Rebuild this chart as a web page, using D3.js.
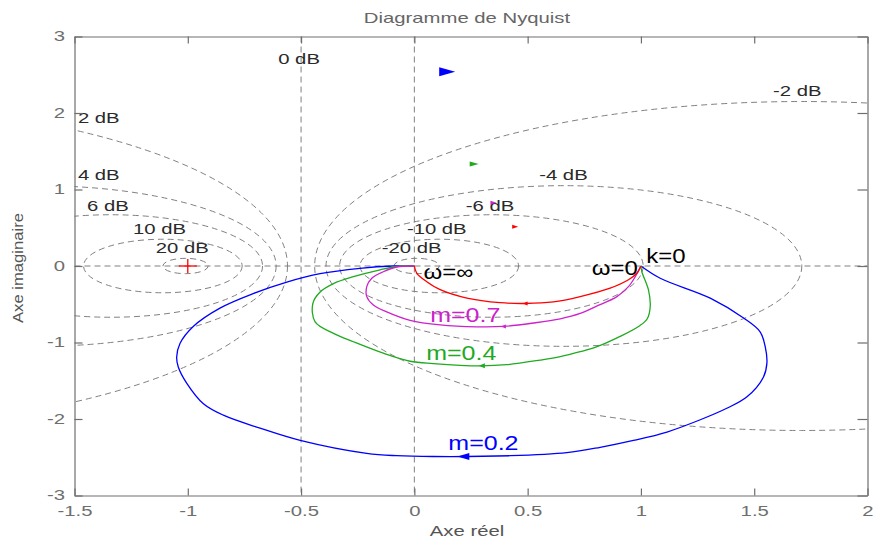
<!DOCTYPE html>
<html>
<head>
<meta charset="utf-8">
<script src="https://cdn.jsdelivr.net/npm/d3@7"></script>
<style>
  body { margin: 0; background: #fff; }
  text { font-family: "Liberation Sans", Arial, sans-serif; }
</style>
</head>
<body>
<div id="chart"></div>
<script>
// M-circles (iso-gain contours), values in dB, with centre and radius on the real axis
const mDb = [2, 4, 6, 10, 20, -2, -4, -6, -10, -20];
const circleCx = [-2.71, -1.66, -1.34, -1.11, -1.01, 1.71, 0.66, 0.34, 0.11, 0.01];
const circleR = [2.15, 1.05, 0.67, 0.35, 0.10, 2.15, 1.05, 0.67, 0.35, 0.10];
const zeroDbRe = -0.5;

// dB label anchors (re, im)
const dbLabels = ['0 dB', '2 dB', '4 dB', '6 dB', '10 dB', '20 dB', '-2 dB', '-4 dB', '-6 dB', '-10 dB', '-20 dB'];
const dbLabelRe = [-0.601, -1.485, -1.485, -1.445, -1.242, -1.141, 1.583, 0.551, 0.227, -0.033, -0.144];
const dbLabelIm = [2.64, 1.87, 1.13, 0.72, 0.42, 0.17, 2.22, 1.13, 0.72, 0.42, 0.17];

// Nyquist loci, [re, im], from w=0 to w=inf
const curveM02 = [[1, 0], [1.085, -0.16], [1.306, -0.42], [1.453, -0.68], [1.526, -0.86], [1.549, -1.06],
  [1.556, -1.27], [1.541, -1.45], [1.468, -1.71], [1.379, -1.86], [1.262, -2.01], [1.115, -2.17],
  [0.967, -2.28], [0.82, -2.37], [0.673, -2.44], [0.423, -2.48], [0.084, -2.49], [-0.078, -2.48],
  [-0.21, -2.45], [-0.504, -2.28], [-0.681, -2.12], [-0.843, -1.95], [-0.931, -1.8], [-1.005, -1.53],
  [-1.042, -1.32], [-1.049, -1.19], [-1.034, -1.01], [-0.976, -0.79], [-0.858, -0.55], [-0.711, -0.36],
  [-0.563, -0.21], [-0.416, -0.1], [-0.24, -0.03], [-0.093, 0], [0, 0]];
const curveM04 = [[1, 0], [1.004, -0.075], [1.033, -0.31], [1.041, -0.53], [1.028, -0.69], [0.995, -0.78],
  [0.908, -0.92], [0.806, -1.055], [0.732, -1.12], [0.644, -1.185], [0.555, -1.23], [0.408, -1.29],
  [0.29, -1.305], [0.084, -1.275], [-0.019, -1.245], [-0.137, -1.14], [-0.269, -0.99], [-0.357, -0.88],
  [-0.438, -0.73], [-0.448, -0.49], [-0.416, -0.34], [-0.357, -0.23], [-0.269, -0.14], [-0.151, -0.05],
  [-0.063, 0], [0, 0]];
const curveM07 = [[1, 0], [0.975, -0.14], [0.945, -0.27], [0.894, -0.4], [0.8, -0.53], [0.732, -0.62],
  [0.644, -0.69], [0.526, -0.745], [0.393, -0.79], [0.276, -0.795], [0.114, -0.77], [-0.019, -0.71],
  [-0.122, -0.6], [-0.181, -0.51], [-0.21, -0.4], [-0.21, -0.27], [-0.188, -0.16], [-0.137, -0.075],
  [-0.078, -0.013], [0, 0]];
const curveOrder1 = [[1, 0], [0.982, -0.095], [0.945, -0.18], [0.864, -0.29], [0.732, -0.4], [0.614, -0.47],
  [0.489, -0.49], [0.379, -0.48], [0.232, -0.42], [0.114, -0.31], [0.055, -0.205], [0.011, -0.095], [0, 0]];

// direction arrows: on the curves (pointing left) and the mirrored ones (pointing right)
const arrowsLower = [[0.216, -2.49], [0.298, -1.305], [0.393, -0.79], [0.489, -0.49]];
const arrowsUpper = [[0.145, 2.54], [0.264, 1.333], [0.349, 0.827], [0.445, 0.514]];

const curveLabels = ['m=0.2', 'm=0.4', 'm=0.7'];
const curveLabelRe = [0.15, 0.052, 0.07];
const curveLabelIm = [-2.405, -1.229, -0.728];

const pointLabels = ['\u03c9=\u221e', '\u03c9=0', 'k=0'];
const pointLabelRe = [0.04, 0.783, 1.023];
const pointLabelIm = [-0.174, -0.118, 0.043];

const xTicks = [-1.5, -1, -0.5, 0, 0.5, 1, 1.5, 2];
const xTickLabels = ['-1.5', '-1', '-0.5', '0', '0.5', '1', '1.5', '2'];
const yTicks = [-3, -2, -1, 0, 1, 2, 3];
const yTickLabels = ['-3', '-2', '-1', '0', '1', '2', '3'];

const width = 874, height = 546;
const margin = { top: 36.5, right: 6.5, bottom: 50.5, left: 74.5 };
const sx = 1.45; // the original picture is stretched horizontally
const colors = ['#0000ff', '#1faa1f', '#cc22cc', '#ff0000'];
const axisGray = '#6e6e6e';

const svg = d3.select('#chart').append('svg')
  .attr('width', width)
  .attr('height', height);

const x = d3.scaleLinear().domain([-1.5, 2]).range([margin.left, width - margin.right]);
const y = d3.scaleLinear().domain([-3, 3]).range([height - margin.bottom, margin.top]);

svg.append('clipPath').attr('id', 'plot')
  .append('rect')
  .attr('x', margin.left).attr('y', margin.top)
  .attr('width', x(2) - x(-1.5)).attr('height', y(-3) - y(3));

function stretched(g, str, px, py, size, scale, color, anchor) {
  return g.append('text')
    .attr('transform', `translate(${px},${py}) scale(${scale},1)`)
    .attr('font-size', size)
    .attr('fill', color)
    .attr('text-anchor', anchor || 'start')
    .text(str);
}

// Grid: M-circles and axes through the origin
const grid = svg.append('g')
  .attr('clip-path', 'url(#plot)')
  .attr('fill', 'none')
  .attr('stroke', '#808080')
  .attr('stroke-width', 1)
  .attr('stroke-dasharray', '6,4');

grid.selectAll('ellipse')
  .data(mDb)
  .join('ellipse')
  .attr('cx', (d, i) => x(circleCx[i]))
  .attr('cy', y(0))
  .attr('rx', (d, i) => x(circleR[i]) - x(0))
  .attr('ry', (d, i) => y(0) - y(circleR[i]));

grid.append('line').attr('x1', x(zeroDbRe)).attr('x2', x(zeroDbRe)).attr('y1', y(3)).attr('y2', y(-3));
grid.append('line').attr('x1', x(0)).attr('x2', x(0)).attr('y1', y(3)).attr('y2', y(-3));
grid.append('line').attr('x1', x(-1.5)).attr('x2', x(2)).attr('y1', y(0)).attr('y2', y(0));

const dbG = svg.append('g');
dbLabels.forEach((t, i) => stretched(dbG, t, x(dbLabelRe[i]), y(dbLabelIm[i]), 14, sx, '#2a2a2a'));

// Critical point
const crit = svg.append('g').attr('stroke', '#ff0000').attr('stroke-width', 1.3);
crit.append('line').attr('x1', x(-1) - 9).attr('x2', x(-1) + 9).attr('y1', y(0)).attr('y2', y(0));
crit.append('line').attr('x1', x(-1)).attr('x2', x(-1)).attr('y1', y(0) - 7).attr('y2', y(0) + 7);

// Loci
const line = d3.line()
  .x(d => x(d[0]))
  .y(d => y(d[1]))
  .curve(d3.curveCatmullRom.alpha(0.5));

const curves = [curveM02, curveM04, curveM07, curveOrder1];
svg.append('g')
  .attr('clip-path', 'url(#plot)')
  .selectAll('path')
  .data(curves)
  .join('path')
  .attr('d', line)
  .attr('fill', 'none')
  .attr('stroke', (d, i) => colors[i])
  .attr('stroke-width', 1.3);

// Arrows
const arrowW = [12, 6, 5, 5], arrowH = [7, 5, 4, 4];
const upW = [16, 9, 6, 6], upH = [9, 5, 4, 4];
const arrows = svg.append('g');
arrowsLower.forEach((p, i) => {
  const w = arrowW[i], h = arrowH[i];
  arrows.append('path')
    .attr('transform', `translate(${x(p[0])},${y(p[1])})`)
    .attr('d', `M${-w / 2},0L${w / 2},${-h / 2}L${w / 2},${h / 2}Z`)
    .attr('fill', colors[i]);
});
arrowsUpper.forEach((p, i) => {
  const w = upW[i], h = upH[i];
  arrows.append('path')
    .attr('transform', `translate(${x(p[0])},${y(p[1])})`)
    .attr('d', `M${w / 2},0L${-w / 2},${-h / 2}L${-w / 2},${h / 2}Z`)
    .attr('fill', colors[i]);
});

// Curve and point labels
const lab = svg.append('g');
curveLabels.forEach((t, i) => stretched(lab, t, x(curveLabelRe[i]), y(curveLabelIm[i]), 20, 1.25, colors[i]));
pointLabels.forEach((t, i) => stretched(lab, t, x(pointLabelRe[i]), y(pointLabelIm[i]), 20, 1.2, '#000'));

// Axes (box with inward ticks)
function styleAxis(g) {
  g.selectAll('path, line').attr('stroke', axisGray).attr('stroke-width', 1.2);
  g.selectAll('text').attr('fill', axisGray).attr('font-size', 14)
    .attr('font-family', '"Liberation Sans", Arial, sans-serif');
}

svg.append('g')
  .attr('transform', `translate(0,${y(-3)})`)
  .call(d3.axisBottom(x).tickValues(xTicks).tickSizeInner(-7).tickSizeOuter(0).tickPadding(11)
    .tickFormat((d, i) => xTickLabels[i]))
  .call(styleAxis)
  .call(g => g.selectAll('text').attr('transform', `scale(${sx},1)`));

svg.append('g')
  .attr('transform', `translate(0,${y(3)})`)
  .call(d3.axisTop(x).tickValues(xTicks).tickSizeInner(-7).tickSizeOuter(0).tickFormat(''))
  .call(styleAxis);

svg.append('g')
  .attr('transform', `translate(${x(-1.5)},0)`)
  .call(d3.axisLeft(y).tickValues(yTicks).tickSizeInner(-8).tickSizeOuter(0)
    .tickFormat((d, i) => yTickLabels[i]))
  .call(styleAxis)
  .call(g => g.selectAll('text').attr('x', -9.5 / sx).attr('transform', `scale(${sx},1)`));

svg.append('g')
  .attr('transform', `translate(${x(2)},0)`)
  .call(d3.axisRight(y).tickValues(yTicks).tickSizeInner(-10).tickSizeOuter(0).tickFormat(''))
  .call(styleAxis);

// Titles
stretched(svg, 'Diagramme de Nyquist', 467, 22.7, 14, sx, '#666', 'middle');
stretched(svg, 'Axe r\u00e9el', 467, 536, 14, sx, '#555', 'middle');
svg.append('text')
  .attr('transform', `translate(23,268) rotate(-90) scale(1.19,1)`)
  .attr('font-size', 14)
  .attr('fill', '#555')
  .attr('text-anchor', 'middle')
  .text('Axe imaginaire');
</script>
</body>
</html>
